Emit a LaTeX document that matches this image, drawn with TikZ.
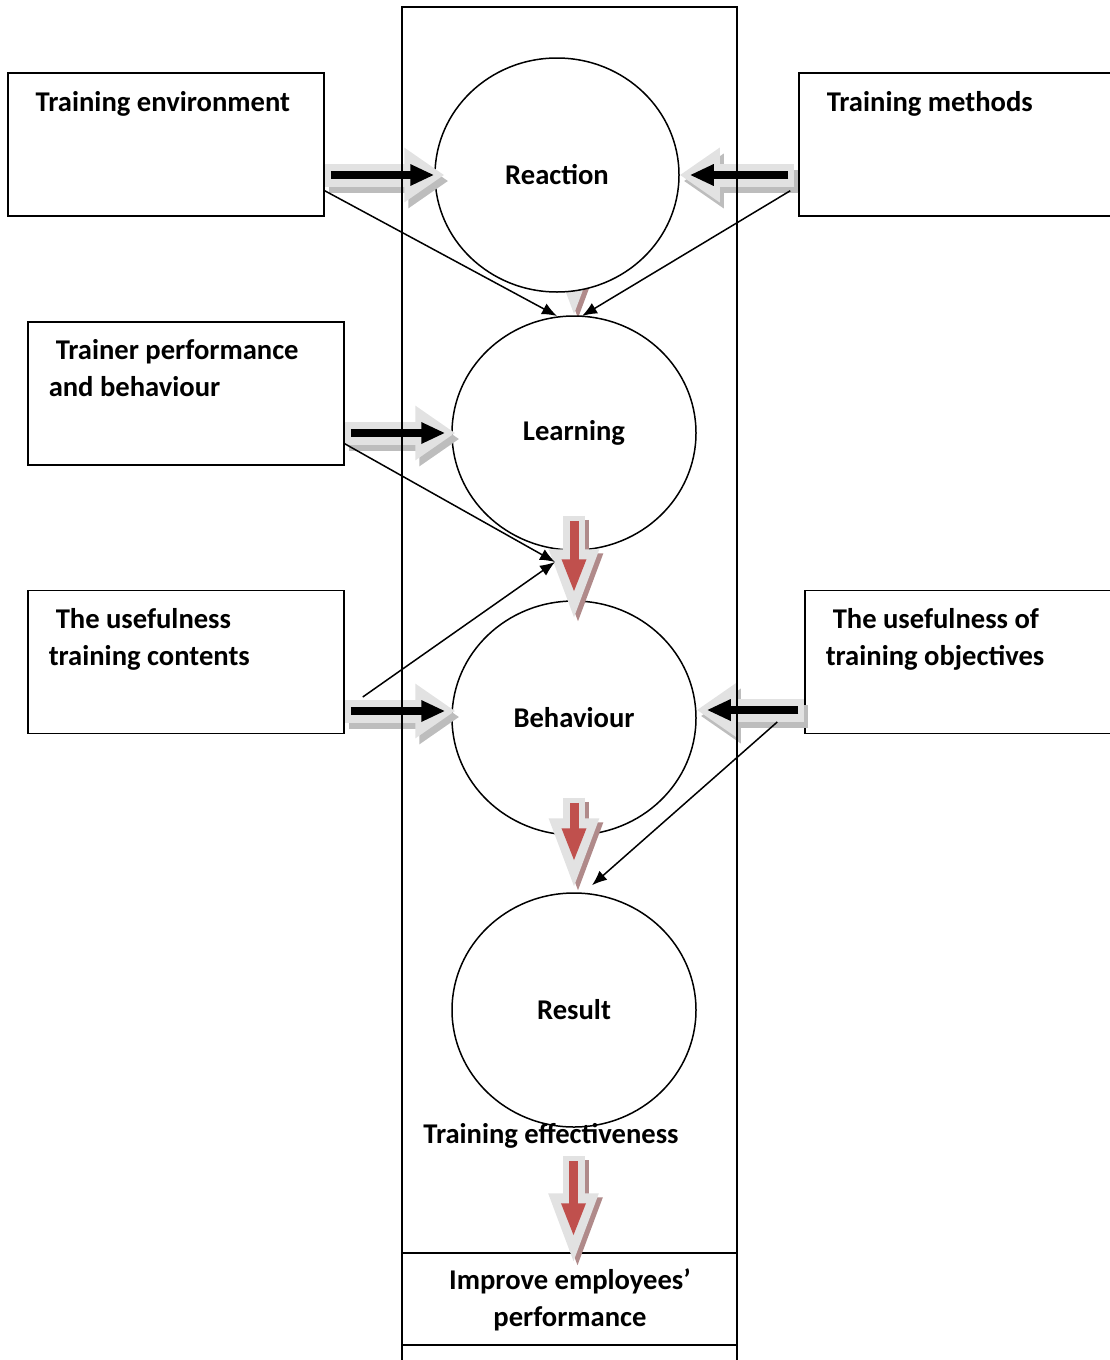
\documentclass[tikz,border=0pt]{standalone}
\usepackage{fontspec}
\setmainfont{Carlito}
\usetikzlibrary{arrows.meta}
\usetikzlibrary{calc}
\usetikzlibrary{shapes.geometric}
\definecolor{fatgray}{HTML}{E2E2E2}
\definecolor{shadegray}{HTML}{BDBDBD}
\definecolor{darkred}{HTML}{C0504D}
\definecolor{redshade}{HTML}{B08A8A}
\newcommand\fatarrow[2]{%
  \draw[fatshade] #1 -- #2;
  \draw[fatbody]  #1 -- #2;
  \draw[fatcore]  #1 -- #2;}
\newcommand\redarrow[2]{%
  \draw[redshadow] #1 -- #2;
  \draw[redbody]   #1 -- #2;
  \draw[redcore]   #1 -- #2;}

\begin{document}
\begin{tikzpicture}[
    x=0.5pt, y=-0.5pt,
    line width=0.75pt,
    font=\bfseries\fontsize{14.3}{18.5}\selectfont,
    box/.style={
      draw, minimum width=158pt, minimum height=71.5pt, inner sep=0pt
    },
    boxtext/.style={
      anchor=base west, inner sep=0pt
    },
    circ/.style={
      draw, ellipse, fill=white, minimum width=122pt, minimum height=117pt, inner sep=0pt
    },
    thinarrow/.style={
      -{Latex[length=7.5pt,width=6pt]}
    },
    fatbody/.style={
      line width=11.5pt, draw=fatgray, -{Triangle[length=20pt,width=26pt]}
    },
    fatshade/.style={
      fatbody, draw=shadegray, transform canvas={shift={(2pt,-3pt)}}
    },
    fatcore/.style={
      line width=4pt, draw=black, shorten <=3pt, shorten >=5pt, -{Triangle[length=12pt,width=10pt]}
    },
    redbody/.style={
      line width=11pt, draw=fatgray, -{Triangle[length=37pt,width=22pt]}
    },
    redshadow/.style={
      redbody, draw=redshade, transform canvas={shift={(2pt,-2pt)}}
    },
    redcore/.style={
      line width=4.5pt, draw=darkred, shorten <=2.5pt, shorten >=15pt, -{Triangle[length=17pt,width=11pt]}
    }
  ]
    \useasboundingbox (0,0) rectangle (1109,1360);

    % circles (hidden arrow first)
    \coordinate (LearTop) at (574,316);
    \redarrow{($(LearTop)+(0,-108)$)}{($(LearTop)+(0,4)$)}

    \node[circ] (Reac) at (557,175)  {Reaction};
    \node[circ] (Lear) at (574,433)  {Learning};
    \node[circ] (Beha) at (574,718)  {Behaviour};
    \node[circ] (Resu) at (574,1010) {Result};

    % left boxes
    \node[box] (EnvBox)   at (166,144.5) {};
    \node[boxtext] (EnvA) at (35,111) {Training environment};

    \node[box] (TrainBox)   at (186,393.5) {};
    \node[boxtext] (TrainA) at (55,359) {Trainer performance};
    \node[boxtext] (TrainB) at (48,396) {and behaviour};

    \node[box] (ContBox)   at (186,662) {};
    \node[boxtext] (ContA) at (55,628) {The usefulness};
    \node[boxtext] (ContB) at (48,665) {training contents};

    % right boxes
    \node[box] (MethBox)   at (957,144.5) {};
    \node[boxtext] (MethA) at (826,111) {Training methods};

    \node[box,minimum width=155pt] (ObjBox) at (960,662) {};
    \node[boxtext] (ObjA) at (832,628) {The usefulness of};
    \node[boxtext] (ObjB) at (825,665) {training objectives};

    % fat arrows into the circles
    \fatarrow{(EnvBox.east |- Reac)}{($(Reac.west)+(10,0)$)}
    \fatarrow{($(MethBox.west |- Reac)+(-4,0)$)}{(Reac.east)}
    \fatarrow{(TrainBox.east |- Lear)}{($(Lear.west)+(4,0)$)}
    \fatarrow{($(ContBox.east |- Beha)+(0,-7)$)}{($(Beha.west)+(4,-7)$)}
    \fatarrow{($(ObjBox.west |- Beha)+(0,-8)$)}{($(Beha.east)+(0,-8)$)}

    % middle column
    \draw (402,1365) -- (402,7) -- (737,7) -- (737,1365);
    \node[draw,minimum width=167.5pt,minimum height=46pt,inner sep=0pt] (ImpBox) at (569.5,1299) {};
    \node[align=center,inner sep=0pt] (ImpText) at (570,1300) {Improve employees’\\performance};
    \node (Eff) at (551,1136) {Training effectiveness};

    % red arrows
    \redarrow{($(Lear.south)+(0,-35)$)}{($(Beha.north)+(0,23)$)}
    \redarrow{($(Beha.south)+(0,-38)$)}{(Resu.north)}
    \redarrow{($(ImpBox.north)+(4,-96)$)}{($(ImpBox.north)+(4,15)$)}

    % thin arrows
    \coordinate (Meet) at (555,562);
    \draw[thinarrow] ($(EnvBox.south east)+(0,-26)$)   to ($(LearTop)+(-17,0)$);
    \draw[thinarrow] ($(MethBox.south west)+(-8,-26)$) to ($(LearTop)+(8,0)$);
    \draw[thinarrow] ($(TrainBox.south east)+(0,-22)$) to (Meet);
    \draw[thinarrow] ($(ContBox.east)+(18,35)$)        to (Meet);
    \draw[thinarrow] ($(ObjBox.west)+(-27,60)$)        to ($(Resu.north)+(18,-7)$);
\end{tikzpicture}
\end{document}
